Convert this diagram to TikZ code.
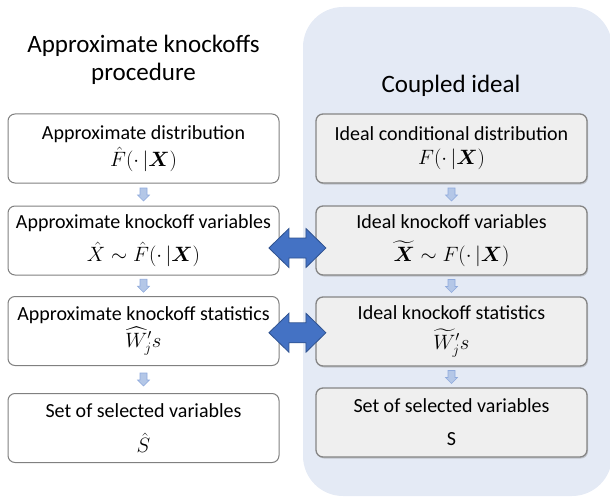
\documentclass[tikz,border=0pt]{standalone}
\usepackage{amsmath}
\usepackage{fontspec}
\setmainfont{Carlito}
\usetikzlibrary{calc,shadows}
\definecolor{panelblue}{RGB}{228,234,245}
\definecolor{boxgray}{RGB}{239,239,239}
\definecolor{arrowblue}{RGB}{68,114,196}
\definecolor{arrowedge}{RGB}{47,82,143}
\definecolor{steplight}{RGB}{180,199,231}
\definecolor{stepedge}{RGB}{143,170,220}
\def\steparrow(#1){\draw[steparrow, shift={(#1)}] (-3.5,-6.5) -- (3.5,-6.5) -- (3.5,0.5) -- (6,0.5) -- (0,6.5) -- (-6,0.5) -- (-3.5,0.5) -- cycle;}
\def\couplearrow(#1){\draw[couplearrow, shift={(#1)}] (-28.5,0) -- (-8.5,-19.5) -- (-8.5,-10) -- (8.5,-10) -- (8.5,-19.5) -- (28.5,0) -- (8.5,19.5) -- (8.5,10) -- (-8.5,10) -- (-8.5,19.5) -- cycle;}
\tikzset{
	approxbox/.style={draw=black!50, line width=1pt, fill=white, rounded corners=7pt, minimum width=271pt, minimum height=69pt, inner sep=0pt, align=center, font=\fontsize{20}{24}\selectfont},
	idealbox/.style={approxbox, draw=black!48, line width=1.3pt, fill=boxgray, drop shadow={shadow xshift=1pt, shadow yshift=-1.5pt, opacity=0.35}},
	titletext/.style={align=center, inner sep=0pt, font=\fontsize{25}{28}\selectfont},
	steparrow/.style={fill=steplight, draw=stepedge, line width=0.6pt},
	couplearrow/.style={fill=arrowblue, draw=arrowedge, line width=0.8pt, line join=miter}
}
\begin{document}
\begin{tikzpicture}[x=1pt, y=-1pt]
		%%%%% START %%%%%
		\useasboundingbox (0,0) rectangle (610,500);
		
		\fill[panelblue, rounded corners=40pt] (303,7) rectangle (612,496);
		
		\node[titletext] (lefttitle) at (143.5,60) {Approximate knockoffs\\procedure};
		\node[titletext] (righttitle) at (451,86) {Coupled ideal};
		
		\node[approxbox] (l1) at (143.5,148.5) {Approximate distribution\\[3pt]$\hat{F}(\cdot\,|\boldsymbol{X})$};
		\node[approxbox] (l2) at (143.5,240.5) {Approximate knockoff variables\\[9pt]$\hat{X}\sim\hat{F}(\cdot\,|\boldsymbol{X})$};
		\node[approxbox] (l3) at (143.5,331) {Approximate knockoff statistics\\[2pt]$\widehat{W}_j's$};
		\node[approxbox] (l4) at (143.5,428) {Set of selected variables\\[11pt]$\hat{S}$};
		
		\node[idealbox] (r1) at (451.5,148.5) {Ideal conditional distribution\\[0pt]$F(\cdot\,|\boldsymbol{X})$};
		\node[idealbox] (r2) at (451.5,240.5) {Ideal knockoff variables\\[9pt]$\widetilde{\boldsymbol{X}}\sim F(\cdot\,|\boldsymbol{X})$};
		\node[idealbox] (r3) at (451.5,331.5) {Ideal knockoff statistics\\[6pt]$\widetilde{W}_j's$};
		\node[idealbox] (r4) at (451.5,422.5) {Set of selected variables\\[9pt]S};
		
		\coordinate (ls1) at ($(l1.south)!0.5!(l2.north)$);
		\coordinate (ls2) at ($(l2.south)!0.5!(l3.north)$);
		\coordinate (ls3) at ($(l3.south)!0.5!(l4.north)$);
		\coordinate (rs1) at ($(r1.south)!0.5!(r2.north)$);
		\coordinate (rs2) at ($(r2.south)!0.5!(r3.north)$);
		\coordinate (rs3) at ($(r3.south)!0.5!(r4.north)$);
		\steparrow(ls1) \steparrow(ls2) \steparrow(ls3)
		\steparrow(rs1) \steparrow(rs2) \steparrow(rs3)
		
		\coordinate (c1) at ($(l2.east)!0.5!(r2.west)+(0,7.5)$);
		\coordinate (c2) at ($(l3.east)!0.5!(r3.west)+(0,1.5)$);
		\couplearrow(c1)
		\couplearrow(c2)
		
		%%%%% END %%%%%
	\end{tikzpicture}
\end{document}
